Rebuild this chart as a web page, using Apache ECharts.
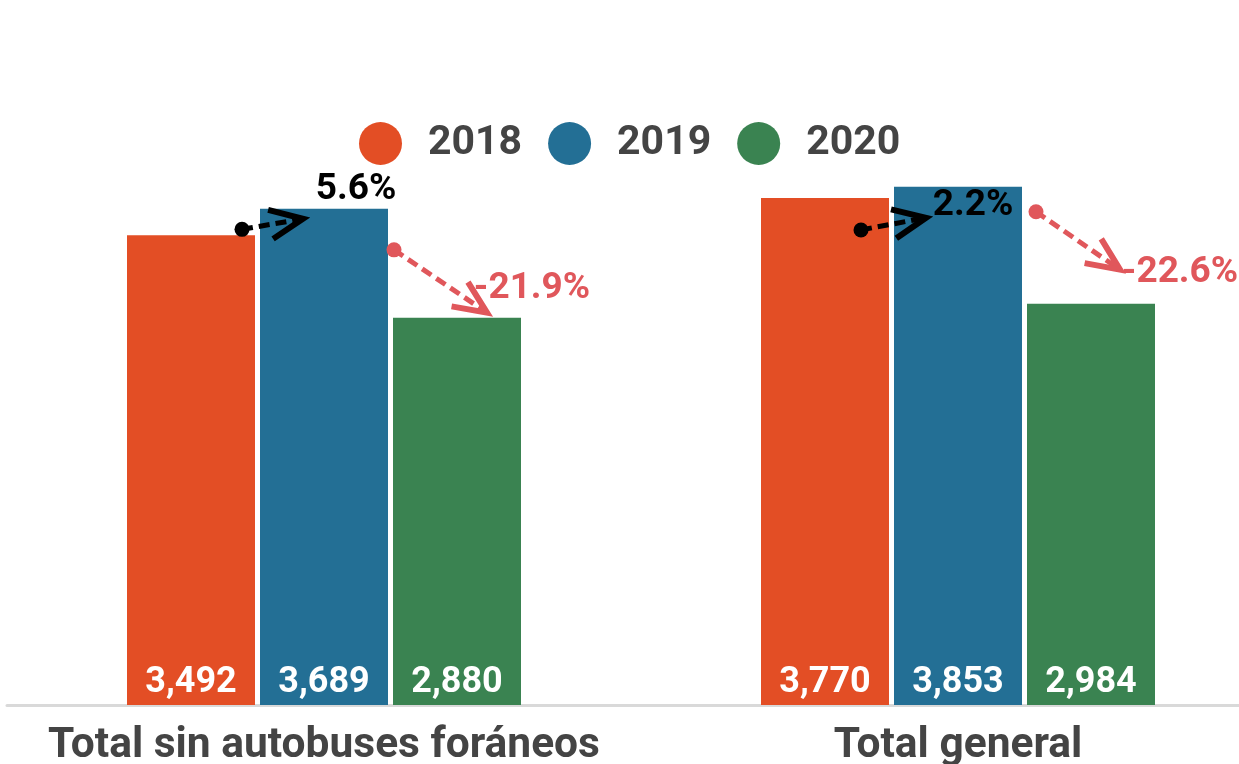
<!DOCTYPE html>
<html>
<head>
<meta charset="utf-8">
<script src="https://cdn.jsdelivr.net/npm/echarts@6/dist/echarts.min.js"></script>
<style>
  html, body { margin: 0; padding: 0; background: #fff; }
  #chart { width: 1239px; height: 764px; }
</style>
</head>
<body>
<div id="chart"></div>
<script>
var categories = ["Total sin autobuses foráneos", "Total general"];
var years = ["2018", "2019", "2020"];
var v2018 = [3492, 3770];
var v2019 = [3689, 3853];
var v2020 = [2880, 2984];

var colors = ["#e34e25", "#236f95", "#3a8351"];
var redArrow = "#e0575b";
var BAR_W = 128, BAR_STEP = 133;

// hand placed arrow nudges (px), relative to bar tops
var nudge = [
  { bs: [-82, -6], be: [-21, 10], bl: [32, -19], rs: [70, 41], re: [163, -5], rl: [208, -29] },
  { bs: [-97, 32], be: [-32, 31], bl: [15, 19], rs: [78, 25], re: [162, -34], rl: [222, -31] }
];

function pct(a, b) {
  return ((b / a - 1) * 100).toFixed(1) + "%";
}

function arrow(x1, y1, x2, y2, color) {
  var ang = Math.atan2(y2 - y1, x2 - x1);
  var len = 36, spread = 0.42;
  var a1 = [x2 - len * Math.cos(ang - spread), y2 - len * Math.sin(ang - spread)];
  var a2 = [x2 - len * Math.cos(ang + spread), y2 - len * Math.sin(ang + spread)];
  return [
    { type: "line", shape: { x1: x1, y1: y1, x2: x2, y2: y2 },
      style: { stroke: color, lineWidth: 5, lineDash: [11, 6] } },
    { type: "polyline", shape: { points: [a1, [x2, y2], a2] },
      style: { stroke: color, lineWidth: 6, fill: null } },
    { type: "circle", shape: { cx: x1, cy: y1, r: 7.5 }, style: { fill: color } }
  ];
}

function renderArrows(params, api) {
  var i = api.value(0);
  var cx = api.coord([i, 0])[0];
  var yo = api.coord([i, api.value(1)])[1];
  var yb = api.coord([i, api.value(2)])[1];
  var yg = api.coord([i, api.value(3)])[1];
  var n = nudge[i];
  var kids = []
    .concat(arrow(cx + n.bs[0], yo + n.bs[1], cx + n.be[0], yb + n.be[1], "#000"))
    .concat(arrow(cx + n.rs[0], yb + n.rs[1], cx + n.re[0], yg + n.re[1], redArrow));
  kids.push({ type: "text", x: cx + n.bl[0], y: yb + n.bl[1],
    style: { text: pct(api.value(1), api.value(2)), fill: "#000", font: "bold 37px Roboto",
      align: "center", verticalAlign: "middle" } });
  kids.push({ type: "text", x: cx + n.rl[0], y: yg + n.rl[1],
    style: { text: pct(api.value(2), api.value(3)), fill: redArrow, font: "bold 37px Roboto",
      align: "center", verticalAlign: "middle" } });
  return { type: "group", children: kids };
}

var chart = echarts.init(document.getElementById("chart"));

var barSeries = [v2018, v2019, v2020].map(function (vals, k) {
  return {
    name: years[k],
    type: "bar",
    data: vals,
    barWidth: BAR_W,
    barGap: ((BAR_STEP - BAR_W) / BAR_W * 100) + "%",
    itemStyle: { color: colors[k] },
    label: {
      show: true,
      position: "insideBottom",
      distance: 4,
      color: "#fff",
      fontFamily: "Roboto",
      fontWeight: "bold",
      fontSize: 36,
      formatter: function (p) { return p.value.toLocaleString("en-US"); }
    },
    silent: true
  };
});

chart.setOption({
  animation: false,
  textStyle: { fontFamily: "Roboto" },
  legend: {
    data: years,
    left: 354,
    top: 117,
    icon: "circle",
    itemWidth: 43,
    itemHeight: 43,
    itemGap: 26,
    textStyle: { fontSize: 41, fontWeight: "bold", color: "#444", fontFamily: "Roboto", padding: [0, 0, 0, 21] }
  },
  grid: { left: 7, width: 1268, top: 167, bottom: 59, containLabel: false, outerBoundsMode: "none" },
  xAxis: {
    type: "category",
    data: categories,
    axisLine: { lineStyle: { color: "#d9d9d9", width: 3 } },
    axisTick: { show: false },
    axisLabel: { fontSize: 42.5, fontWeight: "bold", color: "#444", fontFamily: "Roboto", margin: 20, interval: 0 }
  },
  yAxis: {
    type: "value",
    min: 0,
    max: 4000,
    show: false,
    splitLine: { show: false }
  },
  series: barSeries.concat([{
    type: "custom",
    renderItem: renderArrows,
    data: categories.map(function (c, i) { return [i, v2018[i], v2019[i], v2020[i]]; }),
    encode: { x: 0, y: [1, 2, 3] },
    z: 10,
    silent: true
  }])
});
</script>
</body>
</html>
